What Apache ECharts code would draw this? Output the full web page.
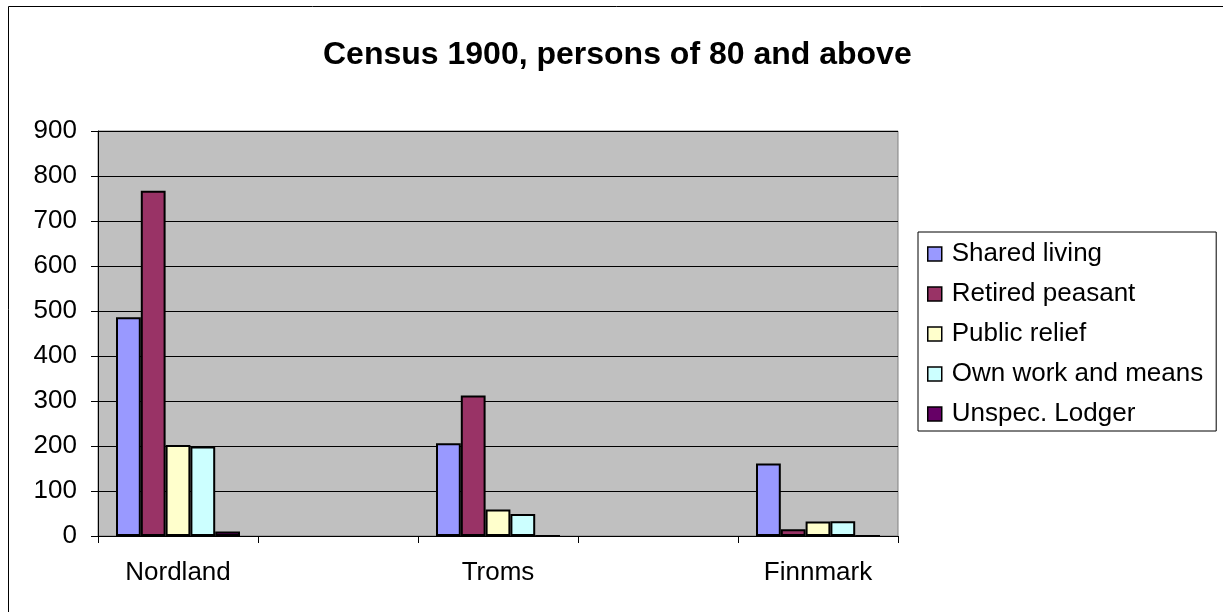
<!DOCTYPE html>
<html>
<head>
<meta charset="utf-8">
<script src="https://cdn.jsdelivr.net/npm/echarts@6/dist/echarts.min.js"></script>
<style>
html,body{margin:0;padding:0;background:#fff;}
#chart{width:1223px;height:612px;}
</style>
</head>
<body>
<div id="chart"></div>
<script>
const categories = ['Nordland', '', 'Troms', '', 'Finnmark'];
const seriesNames = ['Shared living', 'Retired peasant', 'Public relief', 'Own work and means', 'Unspec. Lodger'];
const sharedLiving = [486, '-', 206, '-', 161];
const retiredPeasant = [767, '-', 312, '-', 15];
const publicRelief = [202, '-', 59, '-', 32];
const ownWork = [199, '-', 49, '-', 33];
const unspecLodger = [10, '-', 0, '-', 0];
const yTicks = { min: 0, max: 900, interval: 100 };
const colors = ['#9999FF', '#993366', '#FFFFCC', '#CCFFFF', '#660066'];

const FONT = "'Liberation Sans', Arial, sans-serif";
const values = [sharedLiving, retiredPeasant, publicRelief, ownWork, unspecLodger];

const chart = echarts.init(document.getElementById('chart'), null, { renderer: 'canvas' });
chart.setOption({
  animation: false,
  backgroundColor: '#ffffff',
  color: colors,
  title: {
    text: 'Census 1900, persons of 80 and above',
    left: 318,
    top: 34,
    textStyle: { fontFamily: FONT, fontSize: 32, fontWeight: 'bold', color: '#000' }
  },
  graphic: [{
    type: 'rect',
    z: -1,
    shape: { x: 8.5, y: 6.5, width: 1400, height: 800 },
    style: { fill: 'none', stroke: '#000', lineWidth: 1 }
  }],
  legend: {
    orient: 'vertical',
    left: 918,
    top: 232,
    icon: 'rect',
    itemWidth: 14,
    itemHeight: 14,
    itemGap: 14,
    padding: [9, 13, 4, 9],
    backgroundColor: '#ffffff',
    borderColor: '#000',
    borderWidth: 1,
    itemStyle: { borderColor: '#000', borderWidth: 1.5 },
    textStyle: { fontFamily: FONT, fontSize: 26, lineHeight: 26, color: '#000', padding: [0, 0, 0, 5] },
    data: seriesNames
  },
  grid: {
    left: 98, top: 131, width: 800, height: 405,
    show: true, backgroundColor: '#C0C0C0', borderColor: '#808080', borderWidth: 1
  },
  xAxis: {
    type: 'category',
    data: categories,
    boundaryGap: true,
    axisLine: { show: true, lineStyle: { color: '#000', width: 1 } },
    axisTick: { show: true, length: 7, inside: false, interval: 0, lineStyle: { color: '#000' } },
    axisLabel: { interval: 0, margin: 24, fontFamily: FONT, fontSize: 26, color: '#000' },
    splitLine: { show: false }
  },
  yAxis: {
    type: 'value',
    min: yTicks.min, max: yTicks.max, interval: yTicks.interval,
    axisLine: { show: true, lineStyle: { color: '#000', width: 1 } },
    axisTick: { show: true, length: 7, lineStyle: { color: '#000' } },
    axisLabel: { margin: 21, fontFamily: FONT, fontSize: 26, color: '#000' },
    splitLine: { show: true, lineStyle: { color: '#000', width: 1 } }
  },
  series: seriesNames.map((name, i) => ({
    name: name,
    type: 'bar',
    data: values[i],
    barGap: 0,
    barCategoryGap: '22.5%',
    itemStyle: { color: colors[i], borderColor: '#000', borderWidth: 2 }
  }))
});
</script>
</body>
</html>
